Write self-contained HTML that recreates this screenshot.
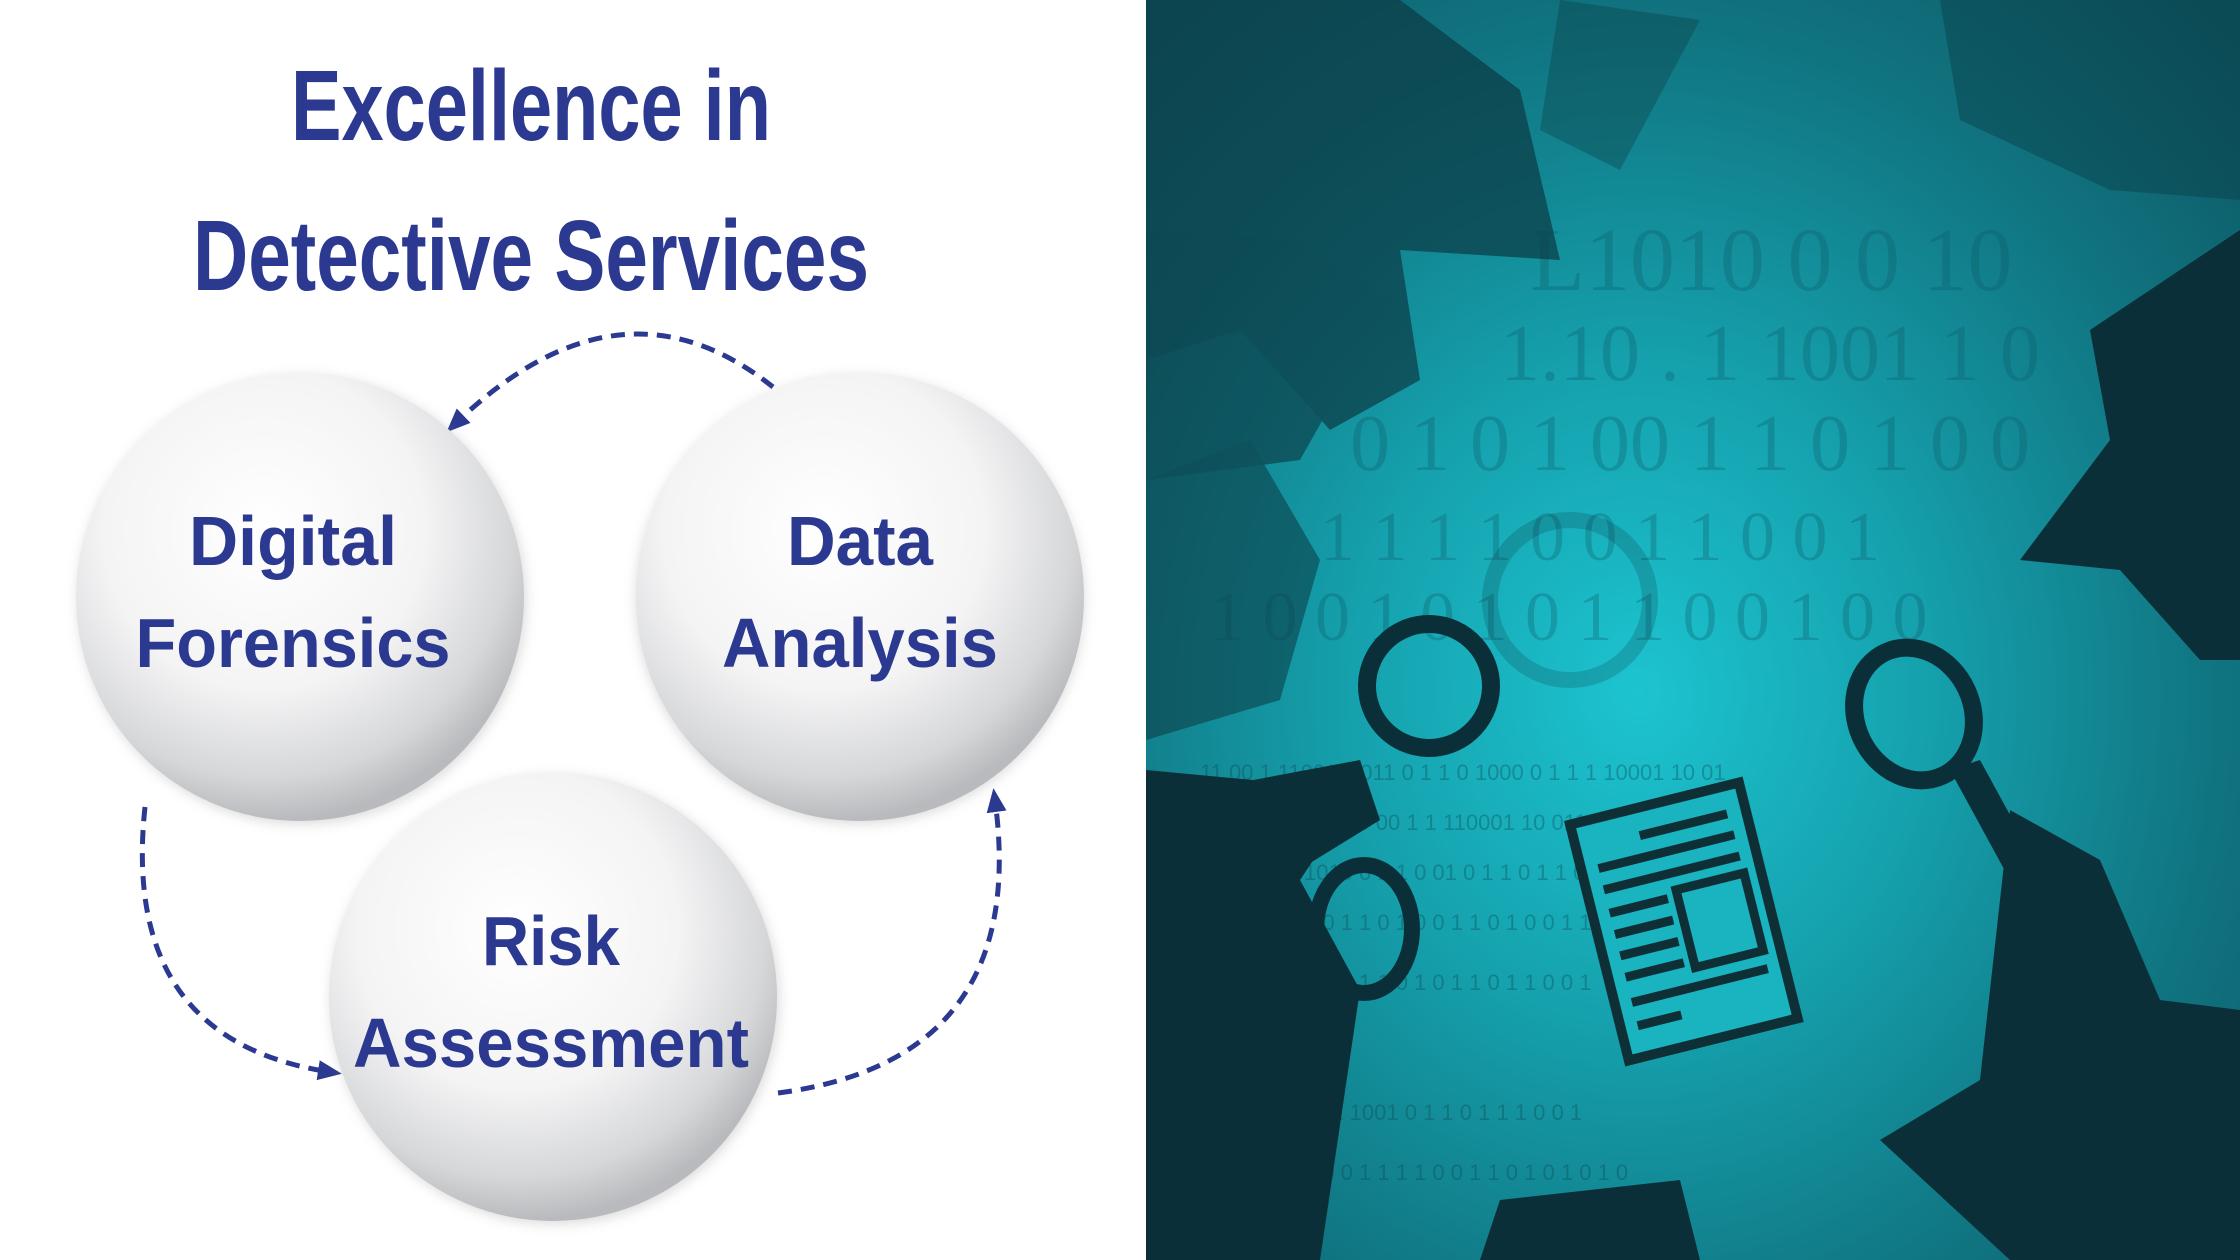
<!DOCTYPE html>
<html><head><meta charset="utf-8"><style>
html,body{margin:0;padding:0;width:2240px;height:1260px;overflow:hidden;background:#fff}
svg{display:block}
</style></head><body>
<svg width="2240" height="1260" viewBox="0 0 2240 1260" xmlns="http://www.w3.org/2000/svg">
<defs>
<radialGradient id="sph" cx="0.42" cy="0.35" r="0.65">
<stop offset="0" stop-color="#ffffff"/><stop offset="0.55" stop-color="#f4f4f5"/><stop offset="0.85" stop-color="#d6d7d9"/><stop offset="1" stop-color="#b9babd"/>
</radialGradient>
<radialGradient id="teal" cx="0.45" cy="0.55" r="0.75">
<stop offset="0" stop-color="#1cc4d0"/><stop offset="0.35" stop-color="#15a1ad"/><stop offset="0.7" stop-color="#107581"/><stop offset="1" stop-color="#0d5864"/>
</radialGradient>
<marker id="ah" markerWidth="24" markerHeight="24" refX="12" refY="12" orient="auto" markerUnits="userSpaceOnUse" viewBox="0 0 24 24">
<path d="M0,2 L24,12 L0,22 z" fill="#2b3990"/></marker>
<filter id="sh"><feGaussianBlur stdDeviation="6"/></filter>
</defs>
<rect width="1146" height="1260" fill="#fff"/>
<g font-family="'Liberation Sans Narrow','Liberation Sans',sans-serif" font-weight="bold" fill="#2b3990" text-anchor="middle">
<text x="531" y="140" font-size="100" textLength="480" lengthAdjust="spacingAndGlyphs">Excellence in</text>
<text x="531" y="290" font-size="100" textLength="676" lengthAdjust="spacingAndGlyphs">Detective Services</text>
</g>
<g fill="none" stroke="#2b3990" stroke-width="5" stroke-dasharray="14 9">
<path d="M773,387 Q620,265 455,424" marker-end="url(#ah)"/>
<path d="M145,807 Q120,1040 330,1072" marker-end="url(#ah)"/>
<path d="M778,1093 Q1030,1060 995,800" marker-end="url(#ah)"/>
</g>
<g>
<circle cx="302" cy="600" r="224" fill="#999" opacity="0.35" filter="url(#sh)"/>
<circle cx="860" cy="600" r="224" fill="#999" opacity="0.35" filter="url(#sh)"/>
<circle cx="555" cy="1000" r="224" fill="#999" opacity="0.35" filter="url(#sh)"/>
<circle cx="300" cy="597" r="224" fill="url(#sph)"/>
<circle cx="860" cy="597" r="224" fill="url(#sph)"/>
<circle cx="553" cy="997" r="224" fill="url(#sph)"/>
</g>
<g font-family="'Liberation Sans',sans-serif" font-weight="bold" fill="#2b3990" text-anchor="middle" font-size="70">
<text x="293" y="565" textLength="208" lengthAdjust="spacingAndGlyphs">Digital</text>
<text x="293" y="667" textLength="315" lengthAdjust="spacingAndGlyphs">Forensics</text>
<text x="860" y="565" textLength="146" lengthAdjust="spacingAndGlyphs">Data</text>
<text x="860" y="667" textLength="276" lengthAdjust="spacingAndGlyphs">Analysis</text>
<text x="551" y="965" textLength="138" lengthAdjust="spacingAndGlyphs">Risk</text>
<text x="551" y="1067" textLength="396" lengthAdjust="spacingAndGlyphs">Assessment</text>
</g>
<!-- right panel -->
<rect x="1146" y="0" width="1094" height="1260" fill="url(#teal)"/>
<g font-family="'Liberation Serif',serif" fill="#0d5866" opacity="0.3">
<text x="1530" y="290" font-size="90">L1010 0 0 10</text>
<text x="1500" y="380" font-size="80">1.10 . 1 1001 1 0</text>
<text x="1350" y="470" font-size="80">0 1 0 1 00 1 1 0 1 0 0</text>
<text x="1320" y="560" font-size="70">1 1 1 1 0 0 1 1 0 0 1</text>
<text x="1210" y="640" font-size="70">1 0 0 1 0 1 0 1 1 0 0 1 0 0</text>
</g>
<g font-family="'Liberation Sans',sans-serif" fill="#0b4550" opacity="0.35" font-size="22">
<text x="1200" y="780">11 00 1 1100110011 0 1 1 0 1000 0 1 1 1 10001 10 01</text>
<text x="1200" y="830">1 1101000 01 1 0 00 1 1 110001 10 011 1 0 1</text>
<text x="1200" y="880">1 1 1 1 0 01010 0 1 1 0 01 0 1 1 0 1 1 0 1 0 0 00 1</text>
<text x="1200" y="930">1 0 0 1 1 1 00 1 1 0 1 0 0 1 1 0 1 0 0 1 1 0 1 00 1</text>
<text x="1200" y="990">1 0 1 1 0 0 1 00 1 1 0 1 0 1 1 0 1 1 0 0 1</text>
<text x="1200" y="1120">11 11 1 00 001 1001 0 1 1 0 1 1 1 0 0 1</text>
<text x="1200" y="1180">10 1 1 0 1 1 0 0 1 1 1 1 0 0 1 1 0 1 0 1 0 1 0</text>
</g>
<g fill="#0c3a44" opacity="0.7">
<path d="M1146,0 L1146,360 L1240,330 L1330,430 L1420,380 L1400,250 L1560,260 L1520,90 L1400,0 Z"/>
<path d="M1146,230 L1300,240 L1390,300 L1300,460 L1146,480 Z" opacity="0.9"/>
<path d="M1146,480 L1250,440 L1320,560 L1280,700 L1146,740 Z" opacity="0.8"/>
<path d="M1940,0 L2240,0 L2240,200 L2110,190 L1960,120 Z" opacity="0.6"/>
<path d="M1560,0 L1700,20 L1620,170 L1540,130 Z" opacity="0.5"/>
</g>
<g fill="#0b2f38">
<path d="M1146,770 L1360,790 L1300,880 L1360,990 L1320,1260 L1146,1260 Z"/>
<path d="M2240,230 L2090,330 L2110,440 L2020,560 L2120,570 L2200,660 L2240,660 Z"/>
<path d="M2010,810 L2100,860 L2160,1000 L2240,1010 L2240,1260 L2010,1260 L1880,1140 L1980,1080 Z"/>
<path d="M1500,1200 L1680,1180 L1700,1260 L1480,1260 Z"/>
</g>
<g fill="none" stroke="#0b2f38">
<circle cx="1429" cy="686" r="62" stroke-width="18" transform="rotate(-20 1429 686)"/>
<ellipse cx="1364" cy="929" rx="48" ry="64" stroke-width="16"/>
<ellipse cx="1914" cy="714" rx="58" ry="68" stroke-width="18" transform="rotate(-25 1914 714)"/>
<circle cx="1570" cy="600" r="80" stroke-width="16" opacity="0.2"/>
</g>
<g fill="#0b2f38">
<path d="M1950,770 L1980,760 L2040,870 L2010,880 Z"/>
<path d="M1146,800 L1360,760 L1380,820 L1250,900 L1146,900 Z"/>
</g>
<g transform="translate(1564,821) rotate(-14)">
<rect x="0" y="0" width="184" height="253" fill="#0f2f36"/>
<rect x="10" y="10" width="164" height="233" fill="#19b4bf"/>
<g fill="#0f2f36">
<rect x="70" y="28" width="90" height="9"/>
<rect x="22" y="50" width="140" height="9"/>
<rect x="22" y="72" width="140" height="9"/>
<rect x="22" y="96" width="60" height="9"/><rect x="22" y="118" width="60" height="9"/><rect x="22" y="140" width="60" height="9"/><rect x="22" y="162" width="60" height="9"/>
<rect x="92" y="94" width="70" height="80" fill="none" stroke="#0f2f36" stroke-width="9"/>
<rect x="22" y="188" width="140" height="9"/>
<rect x="22" y="212" width="45" height="9"/>
</g>
</g>
</svg>
</body></html>
